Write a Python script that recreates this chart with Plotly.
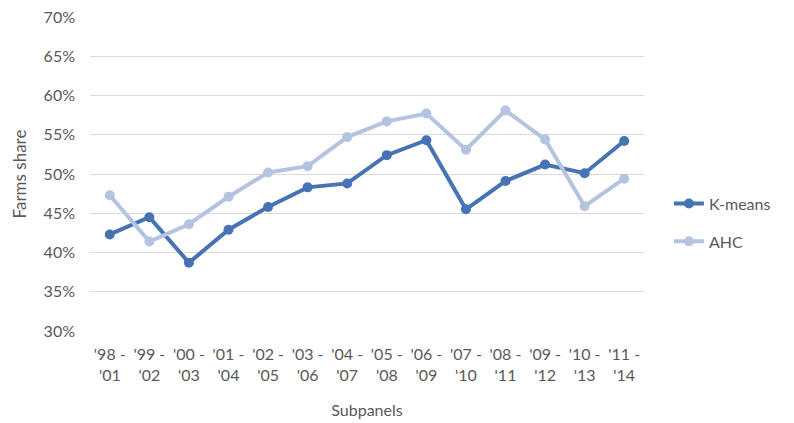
import plotly.graph_objects as go

subpanels = ["'98 -<br>'01", "'99 -<br>'02", "'00 -<br>'03", "'01 -<br>'04", "'02 -<br>'05",
             "'03 -<br>'06", "'04 -<br>'07", "'05 -<br>'08", "'06 -<br>'09", "'07 -<br>'10",
             "'08 -<br>'11", "'09 -<br>'12", "'10 -<br>'13", "'11 -<br>'14"]
kmeans = [0.423, 0.445, 0.387, 0.429, 0.458, 0.483, 0.488, 0.524, 0.543, 0.455,
          0.491, 0.512, 0.501, 0.542]
ahc = [0.473, 0.414, 0.436, 0.471, 0.502, 0.510, 0.547, 0.567, 0.577, 0.531,
       0.581, 0.544, 0.459, 0.494]
y_ticks = [0.30, 0.35, 0.40, 0.45, 0.50, 0.55, 0.60, 0.65, 0.70]

FONT = "Lato"
TXT = "#595959"

fig = go.Figure()
fig.add_trace(go.Scatter(
    x=subpanels, y=kmeans, name="K-means", mode="lines+markers",
    line=dict(color="#4673b4", width=4), marker=dict(size=10, color="#4673b4"),
    legendgroup="a"))
fig.add_trace(go.Scatter(
    x=subpanels, y=ahc, name="AHC", mode="lines+markers",
    line=dict(color="#b4c4e0", width=4), marker=dict(size=10, color="#b4c4e0"),
    legendgroup="b"))

fig.update_layout(
    width=794, height=423,
    margin=dict(l=90, r=150, t=17, b=92, autoexpand=False),
    paper_bgcolor="white", plot_bgcolor="white",
    font=dict(family=FONT, size=16, color=TXT),
    legend=dict(x=1.045, xanchor="left", y=0.345, yanchor="middle",
                tracegroupgap=14, font=dict(size=16, color=TXT)),
    xaxis=dict(range=[-0.5, 13.5], showgrid=False, showline=False, ticks="",
               automargin=False,
               tickfont=dict(size=16, color=TXT), ticklabelstandoff=12,
               title=dict(text="Subpanels", font=dict(size=16, color=TXT), standoff=22)),
    yaxis=dict(range=[0.30, 0.70], tickvals=y_ticks, tickformat=".0%",
               showgrid=True, gridcolor="#d9d9d9", gridwidth=1, zeroline=False,
               showline=False, ticks="", ticklen=0, ticklabelstandoff=14,
               automargin=False,
               tickfont=dict(size=16, color=TXT),
               title=dict(text="Farms share", font=dict(size=17, color=TXT), standoff=12)),
)

fig.write_html("out.html")
